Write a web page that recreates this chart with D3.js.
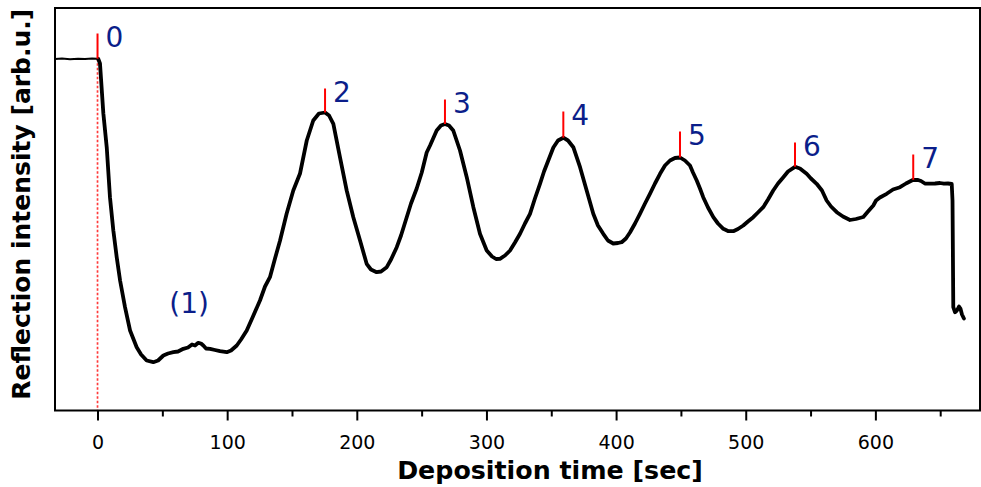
<!DOCTYPE html>
<html>
<head>
<meta charset="utf-8">
<script src="https://cdn.jsdelivr.net/npm/d3@7"></script>
<style>
  html, body { margin: 0; padding: 0; background: #fff; }
  svg { display: block; font-family: "DejaVu Sans", sans-serif; }
</style>
</head>
<body>
<svg id="chart" width="981" height="487"></svg>
<script>
// ---- Data (time in sec, intensity in arbitrary units) ----
const baselineTime = [-32.8, -27.4, -21.2, -15.0, -9.6, -4.2, -0.4];
const baselineValue = [351.5, 352, 351.2, 351.8, 351.4, 352, 351.8];

const depTime = [0.6, 1.9, 4.5, 7.1, 9.6, 12.2, 14.8, 17.4, 21.2, 25.1, 30.2, 33.6, 37.9, 43.0, 46.7, 50.8, 54.4, 58.5, 62.1, 66.2,
  69.8, 72.9, 75.2, 77.7, 79.8, 81.6, 83.7, 86.8, 90.6, 94.5, 99.7, 103.0, 107.4, 110.7, 115.1, 119.9, 125.3, 129.2, 133.0, 136.9,
  140.8, 145.9, 151.0, 156.2, 161.4, 166.4, 170.8, 175.5, 178.6, 181.9, 187.0, 192.2, 197.3, 202.5, 207.6, 210.9, 215.3, 218.7, 223.1, 226.4,
  230.8, 234.1, 238.5, 241.8, 246.2, 250.1, 253.9, 256.5, 261.6, 264.9, 268.0, 271.1, 274.4, 279.6, 284.8, 289.9, 295.0, 300.2, 304.3, 307.4,
  310.4, 314.3, 318.2, 322.0, 325.9, 329.7, 333.6, 337.4, 341.3, 344.4, 347.7, 351.6, 355.2, 359.3, 362.9, 367.0, 372.2, 377.3, 382.4, 386.0,
  390.1, 393.7, 397.8, 401.5, 404.3, 407.6, 410.7, 414.6, 418.4, 422.3, 426.1, 430.0, 433.9, 437.7, 441.6, 445.4, 449.3, 453.1, 457.0, 459.3,
  462.2, 464.7, 467.2, 470.9, 475.0, 478.6, 482.7, 486.3, 490.4, 494.0, 498.1, 501.7, 505.8, 509.4, 513.5, 517.2, 521.2, 524.9, 529.0, 532.6,
  538.0, 541.8, 547.0, 550.3, 554.7, 558.8, 562.4, 565.8, 570.2, 575.0, 580.4, 585.0, 590.7, 594.3, 598.4, 600.5, 603.5, 608.7, 613.6, 619.0,
  623.6, 629.2, 632.9, 635.2, 638.2, 642.1, 646.0, 649.8, 652.9, 656.0, 658.9, 659.5, 660.1, 661.4, 662.9, 664.5, 665.6, 666.8, 668.3];
const depValue = [351.5, 347, 297, 263.3, 213.3, 180, 153.3, 130, 103.3, 80, 63.3, 56, 50, 48.3, 50, 55, 57, 58.3, 59, 61.7,
  63, 66, 65, 67.7, 67, 65, 62, 61.7, 60.5, 59.3, 58.3, 60, 65, 71, 80, 94, 110, 124, 133.3, 152,
  170, 197, 220, 237, 270, 290, 297, 298, 295, 286.7, 253.3, 220, 193.3, 170, 146.7, 141, 138.3, 139, 143.3, 151,
  163.3, 175, 193.3, 207, 222, 238, 258, 265, 280, 285, 286.5, 285, 280, 260, 233.3, 203.3, 176.7, 160, 154, 151.5,
  151.7, 155, 160, 168, 176.7, 187, 196.7, 212, 226.7, 239, 250, 263, 270, 272.8, 270, 263.3, 243.3, 220, 196.7, 185,
  176.7, 170, 167, 167.5, 168.3, 172, 178, 187, 196.7, 207, 216.7, 227, 236.7, 245, 250, 252.5, 253, 250, 245, 238,
  230, 222, 213.3, 203, 193.3, 187, 181.7, 179.5, 179.3, 181.5, 185, 189, 193.3, 198, 203.3, 211, 220, 227, 233.3, 239,
  243.7, 242, 236.7, 232, 226.7, 220, 210, 204, 198.3, 194, 190.5, 191.5, 193.5, 199, 205, 210, 213, 216.7, 221, 223.3,
  227, 230.7, 230.5, 229.5, 227, 226.8, 227, 227.5, 226.8, 227, 226.5, 210, 103.3, 98.3, 100, 104, 102, 96, 92];

// growth-oscillation markers
const markerLabels = ["0", "2", "3", "4", "5", "6", "7"];
const markerTime = [0, 175.5, 268.0, 359.3, 449.3, 538.0, 629.2];
const markerBase = [351.8, 298, 286.5, 272.8, 253, 243.7, 230.7];
const markerTip = [377, 322, 311, 299, 279, 268, 256];

const firstLayerLabel = "(1)";
const firstLayerTime = 70.6;
const firstLayerValue = 98;

const xTicks = [0, 50, 100, 150, 200, 250, 300, 350, 400, 450, 500, 550, 600, 650];
const xTickLabels = ["0", "", "100", "", "200", "", "300", "", "400", "", "500", "", "600", ""];

const xTitle = "Deposition time [sec]";
const yTitle = "Reflection intensity [arb.u.]";

// ---- Layout ----
const svg = d3.select("#chart");
const L = 55, R = 980, T = 8, B = 410.5;

const x = d3.scaleLinear().domain([-32.8, 680.7]).range([L, R]);
const y = d3.scaleLinear().domain([0, 402.5]).range([B, T]);

svg.append("defs").append("clipPath").attr("id", "clip")
  .append("rect").attr("x", L).attr("y", T).attr("width", R - L).attr("height", B - T);

const plot = svg.append("g").attr("clip-path", "url(#clip)");

// dotted start line
plot.append("line")
  .attr("x1", x(0)).attr("x2", x(0))
  .attr("y1", y(markerBase[0])).attr("y2", y(0))
  .attr("stroke", "#ff3b3b").attr("stroke-width", 1.7)
  .attr("stroke-dasharray", "2.5,2");

const line = d3.line().x(d => x(d[0])).y(d => y(d[1]));

// baseline before shutter opening
const base = baselineTime.map((t, i) => [t, baselineValue[i]]);
base.push([depTime[0], depValue[0]]);
plot.append("path").datum(base)
  .attr("d", line).attr("fill", "none")
  .attr("stroke", "#000").attr("stroke-width", 2);

// deposition curve
const dep = depTime.map((t, i) => [t, depValue[i]]);
plot.append("path").datum(dep)
  .attr("d", line).attr("fill", "none")
  .attr("stroke", "#000").attr("stroke-width", 3.8)
  .attr("stroke-linejoin", "round").attr("stroke-linecap", "round");

// markers
markerTime.forEach((t, i) => {
  svg.append("line")
    .attr("x1", x(t)).attr("x2", x(t))
    .attr("y1", y(markerTip[i])).attr("y2", y(markerBase[i]))
    .attr("stroke", "#ff0000").attr("stroke-width", 2);
  svg.append("text")
    .attr("x", x(t) + 8).attr("y", y(markerTip[i]) + 13)
    .attr("fill", "#0b1e8a").attr("font-size", 28)
    .text(markerLabels[i]);
});

svg.append("text")
  .attr("x", x(firstLayerTime)).attr("y", y(firstLayerValue))
  .attr("text-anchor", "middle")
  .attr("fill", "#0b1e8a").attr("font-size", 28)
  .text(firstLayerLabel);

// axes
const xAxis = d3.axisBottom(x).tickValues(xTicks)
  .tickSize(0).tickFormat((d, i) => xTickLabels[i]);
const gx = svg.append("g").attr("transform", `translate(0,${B})`).call(xAxis);
gx.select(".domain").remove();
gx.selectAll(".tick line").remove();
gx.selectAll(".tick").append("line")
  .attr("y1", 0).attr("y2", (d, i) => xTickLabels[i] !== "" ? 10 : 6)
  .attr("stroke", "#000").attr("stroke-width", 2);
gx.selectAll(".tick text")
  .attr("y", 0).attr("dy", 0)
  .attr("transform", "translate(0,38.5)")
  .attr("font-size", 19).attr("font-family", "DejaVu Sans, sans-serif")
  .attr("fill", "#000");

// frame
svg.append("rect").attr("x", L).attr("y", T).attr("width", R - L).attr("height", B - T)
  .attr("fill", "none").attr("stroke", "#000").attr("stroke-width", 2);

// titles
svg.append("text")
  .attr("x", 550).attr("y", 479)
  .attr("text-anchor", "middle").attr("font-size", 25.3).attr("font-weight", "bold")
  .text(xTitle);
svg.append("text")
  .attr("transform", `translate(30,${(T + B) / 2 - 5}) rotate(-90)`)
  .attr("text-anchor", "middle").attr("font-size", 25).attr("font-weight", "bold")
  .text(yTitle);
</script>
</body>
</html>
